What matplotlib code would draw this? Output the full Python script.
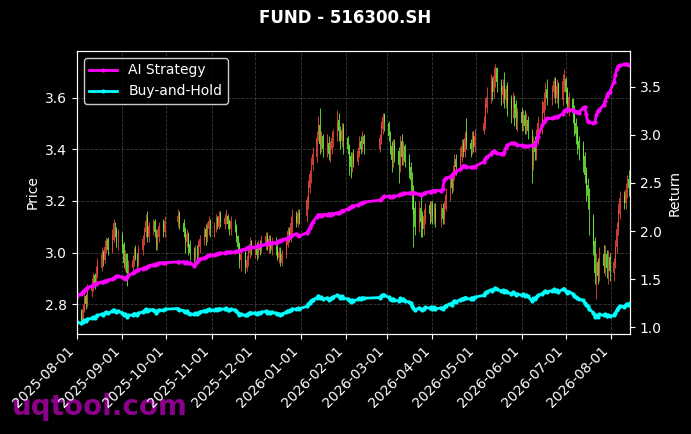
import numpy as np
import pandas as pd
import matplotlib
matplotlib.use("Agg")
import matplotlib.pyplot as plt
import matplotlib.dates as mdates

TITLE = "FUND - 516300.SH"

# trading calendar (exchange holidays removed)
HOLIDAYS = ["2025-10-01", "2025-10-02", "2025-10-03", "2025-10-06", "2025-10-07", "2025-10-08",
            "2026-01-01", "2026-01-02",
            "2026-02-16", "2026-02-17", "2026-02-18", "2026-02-19", "2026-02-20", "2026-02-23",
            "2026-04-06", "2026-05-01", "2026-05-04", "2026-05-05", "2026-06-19"]

# daily OHLC, one line per month (Aug 2025 .. Aug 2026)
opens = [
    2.73, 2.77, 2.74, 2.78, 2.83, 2.80, 2.85, 2.86, 2.91, 2.88, 2.92, 2.94, 3.00, 2.97, 3.01, 3.05, 3.01, 3.05, 3.11, 3.09, 3.03,
    3.06, 3.03, 2.95, 2.99, 2.91, 2.94, 2.97, 3.01, 2.99, 2.96, 3.01, 3.05, 3.08, 3.13, 3.06, 3.09, 3.12, 3.08, 3.02, 3.06, 3.11, 3.08,
    3.12, 3.15, 3.11, 3.09, 3.04, 3.07, 3.03, 3.01, 2.98, 3.02, 2.99, 3.02, 3.05, 3.09, 3.06, 3.09, 3.12,
    3.09, 3.10, 3.13, 3.10, 3.15, 3.11, 3.13, 3.14, 3.12, 3.09, 3.13, 3.10, 3.06, 3.03, 2.97, 3.00, 2.94, 2.97, 3.00, 3.04,
    3.00, 3.02, 2.99, 3.03, 3.01, 3.03, 3.06, 3.02, 3.05, 3.01, 3.04, 3.02, 2.98, 3.00, 2.96, 2.99, 3.03, 3.08, 3.05, 3.10, 3.14, 3.11, 3.15,
    3.14, 3.19, 3.25, 3.29, 3.34, 3.37, 3.46, 3.49, 3.41, 3.45, 3.39, 3.42, 3.37, 3.40, 3.43, 3.45, 3.51, 3.46, 3.43, 3.48,
    3.44, 3.41, 3.37, 3.32, 3.38, 3.35, 3.38, 3.43, 3.40, 3.45, 3.40, 3.44, 3.48, 3.53,
    3.50, 3.45, 3.41, 3.35, 3.42, 3.39, 3.33, 3.43, 3.36, 3.41, 3.36, 3.33, 3.29, 3.23, 3.17, 3.10, 3.17, 3.13, 3.09, 3.13, 3.18, 3.14,
    3.18, 3.13, 3.17, 3.12, 3.17, 3.13, 3.17, 3.22, 3.28, 3.25, 3.30, 3.36, 3.33, 3.37, 3.42, 3.39, 3.46, 3.42, 3.39, 3.45, 3.41,
    3.47, 3.50, 3.56, 3.61, 3.66, 3.62, 3.67, 3.71, 3.65, 3.61, 3.65, 3.59, 3.64, 3.59, 3.54, 3.60, 3.57, 3.51,
    3.54, 3.49, 3.53, 3.48, 3.51, 3.46, 3.34, 3.43, 3.38, 3.44, 3.49, 3.54, 3.58, 3.63, 3.59, 3.62, 3.67, 3.60, 3.65, 3.59, 3.65,
    3.67, 3.63, 3.56, 3.59, 3.55, 3.50, 3.47, 3.43, 3.41, 3.37, 3.31, 3.26, 3.23, 3.13, 3.04, 2.91, 2.96, 2.92, 2.99, 2.94, 2.99, 2.93, 2.98,
    2.92, 2.96, 3.02, 3.09, 3.15, 3.22, 3.19, 3.23, 3.28, 3.24,
]
highs = [
    2.79, 2.78, 2.80, 2.85, 2.84, 2.88, 2.90, 2.92, 2.92, 2.95, 2.98, 3.02, 3.01, 3.05, 3.06, 3.06, 3.09, 3.13, 3.12, 3.10, 3.09,
    3.08, 3.04, 3.01, 3.00, 2.97, 2.99, 3.02, 3.03, 3.00, 3.03, 3.07, 3.10, 3.15, 3.16, 3.12, 3.13, 3.13, 3.09, 3.09, 3.12, 3.13, 3.14,
    3.17, 3.16, 3.13, 3.10, 3.09, 3.08, 3.05, 3.02, 3.03, 3.03, 3.05, 3.07, 3.10, 3.11, 3.12, 3.14, 3.13,
    3.12, 3.15, 3.14, 3.16, 3.16, 3.15, 3.17, 3.15, 3.13, 3.14, 3.13, 3.11, 3.07, 3.04, 3.01, 3.01, 2.99, 3.02, 3.06, 3.05,
    3.05, 3.04, 3.05, 3.05, 3.07, 3.08, 3.08, 3.07, 3.07, 3.06, 3.06, 3.04, 3.02, 3.02, 3.01, 3.06, 3.10, 3.10, 3.14, 3.17, 3.16, 3.17, 3.17,
    3.22, 3.28, 3.32, 3.37, 3.41, 3.47, 3.53, 3.56, 3.47, 3.46, 3.46, 3.45, 3.43, 3.47, 3.48, 3.55, 3.54, 3.49, 3.50, 3.50,
    3.45, 3.42, 3.39, 3.39, 3.40, 3.41, 3.45, 3.45, 3.47, 3.46, 3.46, 3.51, 3.54, 3.54,
    3.51, 3.47, 3.43, 3.44, 3.44, 3.41, 3.45, 3.46, 3.43, 3.42, 3.38, 3.35, 3.31, 3.26, 3.20, 3.20, 3.22, 3.16, 3.17, 3.19, 3.20, 3.20,
    3.20, 3.19, 3.19, 3.19, 3.19, 3.20, 3.25, 3.30, 3.31, 3.34, 3.38, 3.38, 3.41, 3.44, 3.44, 3.47, 3.52, 3.44, 3.47, 3.47, 3.48,
    3.53, 3.60, 3.64, 3.69, 3.68, 3.72, 3.73, 3.72, 3.67, 3.67, 3.70, 3.65, 3.66, 3.61, 3.62, 3.61, 3.59, 3.56,
    3.56, 3.55, 3.55, 3.54, 3.53, 3.48, 3.45, 3.45, 3.48, 3.53, 3.59, 3.62, 3.66, 3.67, 3.65, 3.68, 3.68, 3.67, 3.66, 3.69, 3.71,
    3.68, 3.64, 3.62, 3.60, 3.57, 3.52, 3.49, 3.45, 3.43, 3.39, 3.33, 3.29, 3.25, 3.15, 3.06, 3.00, 2.98, 3.02, 3.03, 3.03, 3.01, 3.01, 3.00,
    2.98, 3.05, 3.12, 3.19, 3.24, 3.24, 3.27, 3.30, 3.32, 3.31,
]
lows = [
    2.71, 2.72, 2.73, 2.77, 2.78, 2.79, 2.83, 2.85, 2.86, 2.87, 2.90, 2.93, 2.95, 2.96, 3.00, 2.99, 3.00, 3.04, 3.06, 3.02, 3.01,
    3.00, 2.94, 2.93, 2.87, 2.90, 2.93, 2.95, 2.97, 2.94, 2.95, 2.99, 3.03, 3.06, 3.04, 3.04, 3.07, 3.06, 3.01, 3.01, 3.04, 3.06, 3.06,
    3.10, 3.09, 3.06, 3.00, 3.02, 2.99, 2.97, 2.96, 2.97, 2.97, 2.98, 3.00, 3.03, 3.03, 3.04, 3.07, 3.06,
    3.06, 3.08, 3.09, 3.09, 3.10, 3.09, 3.11, 3.09, 3.07, 3.07, 3.08, 3.04, 3.00, 2.94, 2.93, 2.92, 2.93, 2.95, 2.98, 2.99,
    2.98, 2.97, 2.98, 2.99, 3.00, 3.01, 3.01, 3.00, 3.00, 2.99, 2.99, 2.97, 2.96, 2.95, 2.95, 2.98, 3.02, 3.04, 3.04, 3.08, 3.10, 3.10, 3.11,
    3.12, 3.17, 3.23, 3.27, 3.32, 3.35, 3.43, 3.38, 3.39, 3.37, 3.37, 3.36, 3.35, 3.38, 3.41, 3.43, 3.43, 3.40, 3.41, 3.38,
    3.38, 3.30, 3.29, 3.31, 3.33, 3.34, 3.37, 3.38, 3.39, 3.38, 3.39, 3.42, 3.46, 3.47,
    3.43, 3.38, 3.31, 3.33, 3.35, 3.27, 3.31, 3.34, 3.34, 3.33, 3.29, 3.24, 3.17, 3.02, 3.07, 3.08, 3.06, 3.06, 3.07, 3.11, 3.11, 3.12,
    3.11, 3.11, 3.10, 3.10, 3.11, 3.11, 3.16, 3.20, 3.23, 3.24, 3.28, 3.30, 3.31, 3.35, 3.37, 3.37, 3.40, 3.37, 3.38, 3.39, 3.39,
    3.46, 3.48, 3.54, 3.58, 3.59, 3.60, 3.64, 3.62, 3.57, 3.58, 3.56, 3.56, 3.53, 3.50, 3.52, 3.49, 3.48, 3.47,
    3.47, 3.47, 3.46, 3.46, 3.44, 3.27, 3.32, 3.36, 3.36, 3.42, 3.46, 3.52, 3.55, 3.57, 3.57, 3.60, 3.58, 3.58, 3.56, 3.57, 3.62,
    3.58, 3.54, 3.53, 3.50, 3.45, 3.42, 3.38, 3.36, 3.31, 3.27, 3.20, 3.17, 3.07, 2.99, 2.88, 2.82, 2.88, 2.89, 2.92, 2.91, 2.90, 2.88, 2.89,
    2.89, 2.94, 3.00, 3.07, 3.13, 3.17, 3.17, 3.21, 3.22, 3.22,
]
closes = [
    2.76, 2.74, 2.78, 2.82, 2.80, 2.85, 2.87, 2.90, 2.88, 2.93, 2.95, 2.99, 2.97, 3.02, 3.04, 3.01, 3.06, 3.11, 3.08, 3.04, 3.07,
    3.02, 2.96, 2.99, 2.92, 2.95, 2.97, 3.00, 2.98, 2.96, 3.01, 3.05, 3.08, 3.12, 3.06, 3.10, 3.11, 3.08, 3.03, 3.07, 3.10, 3.09, 3.12,
    3.14, 3.11, 3.08, 3.05, 3.07, 3.02, 3.00, 2.98, 3.01, 2.99, 3.03, 3.05, 3.08, 3.06, 3.10, 3.12, 3.09,
    3.10, 3.13, 3.11, 3.14, 3.12, 3.13, 3.15, 3.11, 3.09, 3.12, 3.10, 3.06, 3.02, 2.97, 2.99, 2.95, 2.97, 3.00, 3.03, 3.01,
    3.02, 2.99, 3.03, 3.01, 3.04, 3.06, 3.03, 3.05, 3.02, 3.04, 3.01, 2.98, 3.00, 2.97, 2.99, 3.04, 3.08, 3.06, 3.11, 3.13, 3.12, 3.15, 3.13,
    3.20, 3.26, 3.30, 3.35, 3.38, 3.44, 3.49, 3.42, 3.45, 3.40, 3.43, 3.38, 3.41, 3.44, 3.46, 3.50, 3.47, 3.44, 3.47, 3.43,
    3.40, 3.36, 3.33, 3.37, 3.35, 3.39, 3.42, 3.40, 3.44, 3.42, 3.44, 3.49, 3.52, 3.50,
    3.45, 3.40, 3.36, 3.41, 3.38, 3.34, 3.42, 3.37, 3.40, 3.35, 3.32, 3.28, 3.22, 3.15, 3.10, 3.16, 3.12, 3.09, 3.14, 3.17, 3.15, 3.18,
    3.14, 3.17, 3.13, 3.16, 3.13, 3.18, 3.22, 3.27, 3.25, 3.31, 3.35, 3.33, 3.38, 3.41, 3.39, 3.44, 3.42, 3.40, 3.44, 3.41, 3.45,
    3.50, 3.57, 3.60, 3.65, 3.62, 3.68, 3.70, 3.66, 3.62, 3.64, 3.60, 3.63, 3.58, 3.55, 3.59, 3.56, 3.52, 3.54,
    3.50, 3.53, 3.49, 3.51, 3.47, 3.35, 3.42, 3.39, 3.45, 3.50, 3.55, 3.58, 3.62, 3.60, 3.63, 3.66, 3.61, 3.64, 3.60, 3.66, 3.68,
    3.62, 3.57, 3.60, 3.54, 3.49, 3.46, 3.42, 3.40, 3.36, 3.30, 3.25, 3.22, 3.12, 3.03, 2.92, 2.95, 2.91, 2.98, 2.95, 2.99, 2.94, 2.97, 2.93,
    2.96, 3.02, 3.09, 3.16, 3.21, 3.19, 3.24, 3.27, 3.25, 3.28,
]

# cumulative return of the AI strategy (right axis)
ai_strategy = [
    1.33, 1.35, 1.37, 1.38, 1.40, 1.41, 1.43, 1.44, 1.45, 1.45, 1.46, 1.47, 1.47, 1.48, 1.48, 1.49, 1.50, 1.51, 1.52, 1.53, 1.53,
    1.52, 1.51, 1.50, 1.52, 1.54, 1.56, 1.57, 1.58, 1.59, 1.60, 1.61, 1.62, 1.62, 1.63, 1.64, 1.65, 1.65, 1.66, 1.66, 1.67, 1.67, 1.67,
    1.68, 1.68, 1.68, 1.67, 1.68, 1.67, 1.67, 1.64, 1.66, 1.68, 1.70, 1.71, 1.72, 1.73, 1.74, 1.75, 1.75,
    1.75, 1.76, 1.76, 1.77, 1.77, 1.77, 1.78, 1.78, 1.78, 1.78, 1.78, 1.79, 1.79, 1.79, 1.80, 1.81, 1.82, 1.83, 1.83, 1.83,
    1.83, 1.84, 1.84, 1.85, 1.85, 1.86, 1.87, 1.88, 1.88, 1.88, 1.88, 1.89, 1.90, 1.90, 1.91, 1.92, 1.93, 1.94, 1.95, 1.96, 1.97, 1.96, 1.95,
    1.98, 2.00, 2.03, 2.06, 2.09, 2.15, 2.17, 2.17, 2.16, 2.17, 2.17, 2.18, 2.17, 2.18, 2.18, 2.19, 2.19, 2.20, 2.21, 2.21,
    2.23, 2.24, 2.25, 2.26, 2.26, 2.27, 2.28, 2.29, 2.29, 2.30, 2.32, 2.33, 2.35, 2.36,
    2.36, 2.35, 2.35, 2.36, 2.36, 2.37, 2.38, 2.38, 2.39, 2.39, 2.39, 2.40, 2.40, 2.40, 2.39, 2.38, 2.37, 2.38, 2.39, 2.40, 2.41, 2.41,
    2.42, 2.42, 2.42, 2.42, 2.44, 2.53, 2.55, 2.56, 2.58, 2.59, 2.60, 2.62, 2.64, 2.66, 2.68, 2.68, 2.67, 2.66, 2.66, 2.66, 2.67,
    2.72, 2.75, 2.77, 2.80, 2.82, 2.83, 2.82, 2.81, 2.80, 2.80, 2.82, 2.86, 2.89, 2.91, 2.91, 2.91, 2.90, 2.89,
    2.89, 2.88, 2.88, 2.88, 2.88, 2.89, 2.89, 2.89, 2.93, 2.98, 3.10, 3.13, 3.15, 3.17, 3.17, 3.18, 3.18, 3.18, 3.19, 3.22, 3.25,
    3.26, 3.26, 3.26, 3.26, 3.25, 3.24, 3.24, 3.23, 3.28, 3.29, 3.22, 3.14, 3.13, 3.12, 3.13, 3.20, 3.25, 3.26, 3.31, 3.35, 3.40, 3.43, 3.44,
    3.55, 3.62, 3.68, 3.71, 3.72, 3.73, 3.73, 3.73, 3.72, 3.72,
]
bh_start = 1.05  # buy-and-hold value on the first day

days = pd.bdate_range("2025-08-01", "2026-08-14")
days = days[~days.isin(pd.to_datetime(HOLIDAYS))]
n = min(len(days), len(closes), len(opens), len(highs), len(lows), len(ai_strategy))
days = days[:n]
o = np.array(opens[:n])
h = np.array(highs[:n])
l = np.array(lows[:n])
c = np.array(closes[:n])
ai = np.array(ai_strategy[:n])
buy_hold = c / c[0] * bh_start

plt.style.use("dark_background")
fig = plt.figure(figsize=(6.91, 4.34), dpi=100)
ax = fig.add_axes([0.1114, 0.2304, 0.8003, 0.6521])

# candles: red = up, green = down
up = c >= o
colors = np.where(up, "#f04a3c", "#6ef03c")
ax.vlines(days, l, h, colors=colors, linewidth=0.7, alpha=0.85)
ax.bar(days, np.abs(c - o) + 0.003, bottom=np.minimum(o, c), width=0.6,
       color=colors, alpha=0.85, linewidth=0)

ax.set_ylabel("Price")
ax.set_ylim(2.685, 3.78)
ax.set_xlim(days[0], days[-1])
ax.grid(True, color="gray", linestyle="--", linewidth=0.6, alpha=0.45)
ax.xaxis.set_major_locator(mdates.MonthLocator())
ax.xaxis.set_major_formatter(mdates.DateFormatter("%Y-%m-%d"))
plt.setp(ax.get_xticklabels(), rotation=45, ha="right")

ax2 = ax.twinx()
ax2.plot(days, ai, color="#ff00ff", linewidth=2, marker="o", markersize=2, label="AI Strategy")
ax2.plot(days, buy_hold, color="#00ffff", linewidth=2, marker="o", markersize=2, label="Buy-and-Hold")
ax2.set_ylabel("Return")
ax2.set_ylim(0.93, 3.87)
ax2.legend(loc="upper left", facecolor="black", edgecolor="white")

fig.text(0.5, 0.958, TITLE, ha="center", va="center", fontsize=12, fontweight="bold", color="white")
fig.text(0.017, 0.044, "uqtool.com", fontsize=20, fontweight="bold", color="#8c008c",
         ha="left", va="baseline", zorder=-1)

fig.savefig("out.png", dpi=100)
